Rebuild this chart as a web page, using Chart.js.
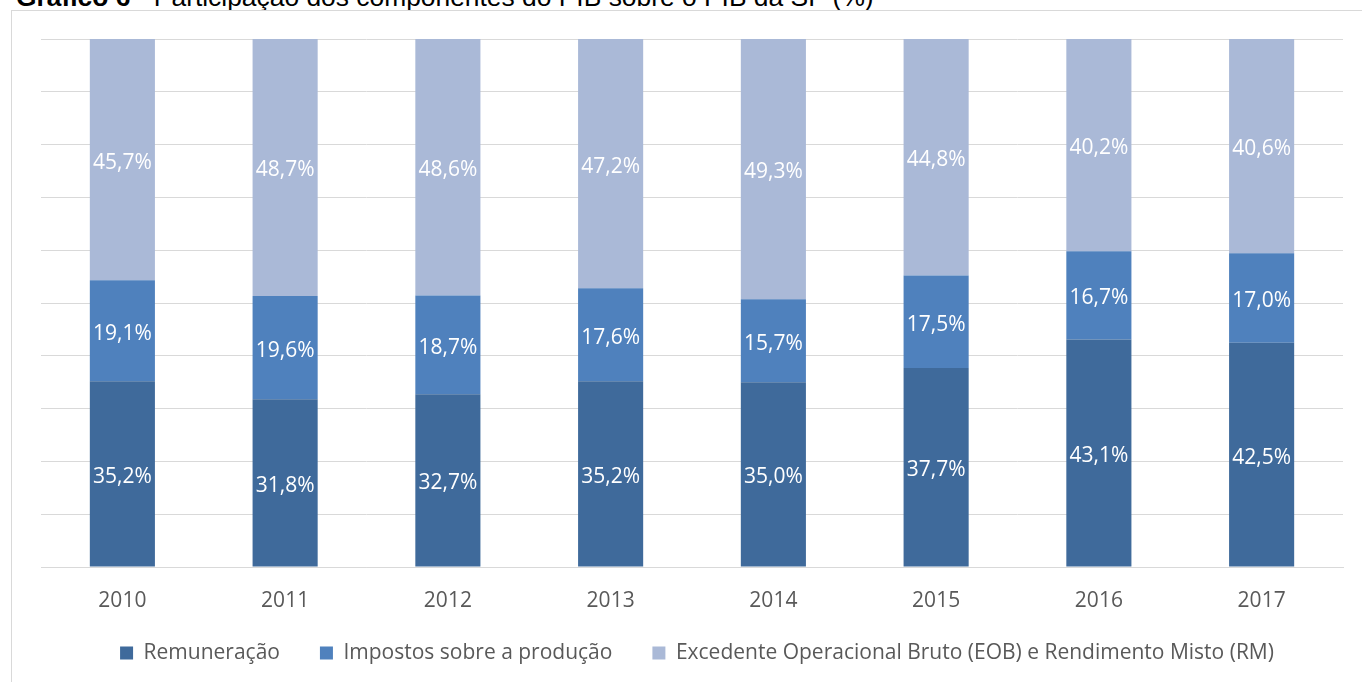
<!DOCTYPE html>
<html>
<head>
<meta charset="utf-8">
<script src="https://cdn.jsdelivr.net/npm/chart.js@4/dist/chart.umd.min.js"></script>
<style>
  html, body { margin: 0; padding: 0; background: #fff; overflow: hidden; }
  #titulo {
    position: absolute; left: 16px; top: -16px; white-space: nowrap;
    font-family: "Liberation Sans", Arial, sans-serif; font-size: 26.4px; line-height: 26px; color: #000;
  }
  #moldura {
    position: absolute; left: 11px; top: 10px; width: 1400px; height: 700px;
    border: 1px solid #d9d9d9;
  }
  #wrap { position: absolute; left: 0; top: 0; width: 1362px; height: 682px; }
</style>
</head>
<body>
<div id="titulo"><b>Gráfico 6</b> - Participação dos componentes do PIB sobre o PIB da SP (%)</div>
<div id="moldura"></div>
<div id="wrap"><canvas id="grafico"></canvas></div>
<script>
// dados
const anos = ['2010', '2011', '2012', '2013', '2014', '2015', '2016', '2017'];
const remuneracao = [35.2, 31.8, 32.7, 35.2, 35.0, 37.7, 43.1, 42.5];
const impostos = [19.1, 19.6, 18.7, 17.6, 15.7, 17.5, 16.7, 17.0];
const excedente = [45.7, 48.7, 48.6, 47.2, 49.3, 44.8, 40.2, 40.6];

const nomes = ['Remuneração', 'Impostos sobre a produção', 'Excedente Operacional Bruto (EOB) e Rendimento Misto (RM)'];
const cores = ['#3f6a9b', '#4f81bd', '#aab9d7'];

// 100% empilhado: normaliza pela soma de cada ano
const totais = anos.map((a, i) => remuneracao[i] + impostos[i] + excedente[i]);
function normaliza(serie) {
    return serie.map((v, i) => v / totais[i] * 100);
}

const series = [remuneracao, impostos, excedente];

// rótulos no meio de cada segmento
const rotulos = {
    id: 'rotulos',
    afterDatasetsDraw(chart) {
        const ctx = chart.ctx;
        ctx.save();
        ctx.fillStyle = '#ffffff';
        ctx.font = '21px "Open Sans"';
        ctx.textAlign = 'center';
        ctx.textBaseline = 'middle';
        chart.data.datasets.forEach((ds, d) => {
            chart.getDatasetMeta(d).data.forEach((bar, i) => {
                const txt = series[d][i].toFixed(1).replace('.', ',') + '%';
                ctx.fillText(txt, bar.x, (bar.y + bar.base) / 2 + 3);
            });
        });
        ctx.restore();
    }
};

// sobe um pouco a legenda (o padding dela vale para os dois eixos)
const moveLegenda = {
    id: 'moveLegenda',
    afterLayout(chart) {
        const lg = chart.legend;
        lg.top -= 8.5;
        lg.bottom -= 8.5;
        lg.left += 5;
        lg.right += 5;
    }
};

const ctx = document.getElementById('grafico');

new Chart(ctx, {
    type: 'bar',
    data: {
        labels: anos,
        datasets: series.map((s, d) => ({
            label: nomes[d],
            data: normaliza(s),
            backgroundColor: cores[d],
            borderWidth: 0,
            categoryPercentage: 1,
            barPercentage: 0.4
        }))
    },
    options: {
        responsive: true,
        maintainAspectRatio: false,
        animation: false,
        layout: {
            padding: { left: 41, right: 19, top: 39, bottom: 0 }
        },
        plugins: {
            legend: {
                position: 'bottom',
                labels: {
                    boxWidth: 13,
                    boxHeight: 13,
                    padding: 40,
                    color: '#595959',
                    font: { family: 'Open Sans', size: 21 }
                }
            },
            tooltip: { enabled: false }
        },
        scales: {
            x: {
                stacked: true,
                afterFit(axis) { axis.height = 44; },
                grid: { display: false },
                border: { color: '#d9d9d9', width: 1 },
                ticks: {
                    color: '#595959',
                    padding: 13,
                    font: { family: 'Open Sans', size: 21 }
                }
            },
            y: {
                stacked: true,
                min: 0,
                max: 100,
                afterFit(axis) { axis.width = 0; },
                ticks: { display: false, stepSize: 10 },
                border: { display: false },
                grid: { color: '#d9d9d9', drawTicks: false }
            }
        }
    },
    plugins: [rotulos, moveLegenda]
});
</script>
</body>
</html>
